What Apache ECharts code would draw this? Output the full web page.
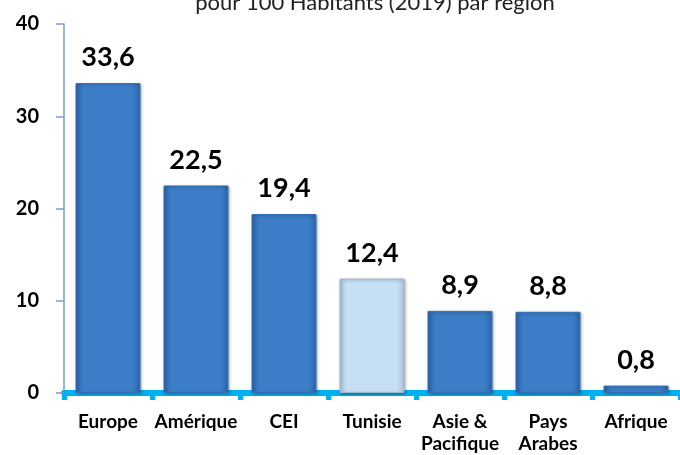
<!DOCTYPE html>
<html>
<head>
<meta charset="utf-8">
<script src="https://cdn.jsdelivr.net/npm/echarts@6/dist/echarts.min.js"></script>
<style>
  html, body { margin: 0; padding: 0; background: #fff; }
  #chart { width: 680px; height: 455px; }
</style>
</head>
<body>
<div id="chart"></div>
<script>
const regions = ['Europe', 'Amérique', 'CEI', 'Tunisie', 'Asie &\nPacifique', 'Pays\nArabes', 'Afrique'];
const values = [33.6, 22.5, 19.4, 12.4, 8.9, 8.8, 0.8];
const highlighted = 'Tunisie';
const yTicks = { min: 0, max: 40, interval: 10 };

const FONT = 'Lato, "Noto Sans", sans-serif';

const blueBar = {
  type: 'linear', x: 0, y: 0, x2: 1, y2: 0,
  colorStops: [
    { offset: 0, color: '#2d65a8' },
    { offset: 0.12, color: '#3b7dc6' },
    { offset: 0.88, color: '#3b7dc6' },
    { offset: 1, color: '#2d65a8' }
  ]
};
const lightBar = {
  type: 'linear', x: 0, y: 0, x2: 1, y2: 0,
  colorStops: [
    { offset: 0, color: '#a9c4de' },
    { offset: 0.12, color: '#c6dff5' },
    { offset: 0.88, color: '#c6dff5' },
    { offset: 1, color: '#a9c4de' }
  ]
};

const chart = echarts.init(document.getElementById('chart'));

chart.setOption({
  animation: false,
  title: {
    text: 'pour 100 Habitants (2019) par région',
    left: 370,
    textAlign: 'center',
    top: -13,
    textStyle: { fontFamily: FONT, fontSize: 22, fontWeight: 'normal', color: '#222' }
  },
  grid: { left: 64, top: 24, width: 625, height: 369 },
  xAxis: {
    type: 'category',
    data: regions,
    axisLine: { lineStyle: { color: '#00b0f0', width: 6 } },
    axisTick: { show: true, length: 7, lineStyle: { color: '#00b0f0', width: 5 } },
    axisLabel: {
      interval: 0,
      margin: 18,
      fontFamily: FONT,
      fontSize: 19,
      fontWeight: 'bold',
      lineHeight: 22,
      color: '#000'
    }
  },
  yAxis: {
    type: 'value',
    min: yTicks.min,
    max: yTicks.max,
    interval: yTicks.interval,
    splitLine: { show: false },
    axisLine: { show: true, lineStyle: { color: '#7b9bd6', width: 1.5 } },
    axisTick: { show: true, length: 8, lineStyle: { color: '#7b9bd6', width: 1.5 } },
    axisLabel: {
      margin: 25,
      fontFamily: FONT,
      fontSize: 20,
      fontWeight: 'bold',
      color: '#000'
    }
  },
  series: [{
    type: 'bar',
    barWidth: 65,
    data: values.map((v, i) => ({
      value: v,
      itemStyle: regions[i] === highlighted
        ? { color: lightBar, borderColor: '#9fb6cc', borderWidth: 1 }
        : { color: blueBar, borderColor: '#3570b5', borderWidth: 1 }
    })),
    itemStyle: {
      shadowColor: 'rgba(0,0,0,0.3)',
      shadowBlur: 3,
      shadowOffsetX: 1,
      shadowOffsetY: 1
    },
    label: {
      show: true,
      position: 'top',
      distance: 12,
      fontFamily: FONT,
      fontSize: 27,
      fontWeight: 'bold',
      color: '#000',
      formatter: p => p.value.toFixed(1).replace('.', ',')
    }
  }]
});
</script>
</body>
</html>
